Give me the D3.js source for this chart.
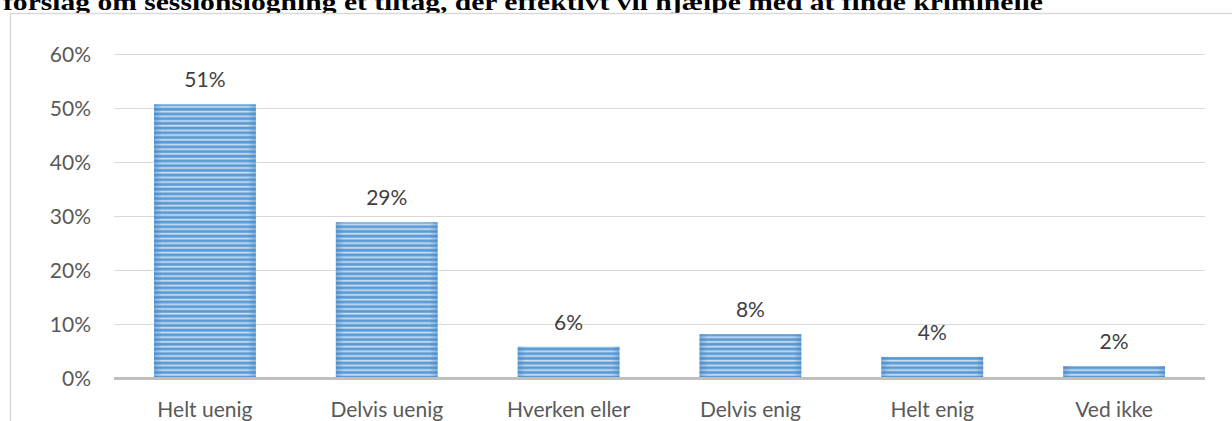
<!DOCTYPE html>
<html><head><meta charset="utf-8">
<script src="https://cdn.jsdelivr.net/npm/d3@7"></script>
<style>html,body{margin:0;padding:0;background:#fff;overflow:hidden}</style>
</head><body>
<svg id="c" width="1232" height="421"></svg>
<script>
const categories = ["Helt uenig","Delvis uenig","Hverken eller","Delvis enig","Helt enig","Ved ikke"];
const values = [50.6, 28.8, 5.8, 8.1, 3.9, 2.2];
const valueLabels = ["51%","29%","6%","8%","4%","2%"];
const yTicks = [0,10,20,30,40,50,60];
const title = "forslag om sessionslogning et tiltag, der effektivt vil hjælpe med at finde kriminelle";

const svg = d3.select("#c");
const W = 1232, H = 421;
const m = {left:114, right:1205, top:53.5, bottom:378};

const defs = svg.append("defs");
const pat = defs.append("pattern").attr("id","stripes").attr("patternUnits","userSpaceOnUse")
  .attr("width",10).attr("height",4.7);
pat.append("rect").attr("width",10).attr("height",4.7).attr("fill","#5b9bd5");
pat.append("rect").attr("y",2.6).attr("width",10).attr("height",1.8).attr("fill","#c9ddf2");
const grad = defs.append("linearGradient").attr("id","edge").attr("x1","0").attr("x2","1").attr("y1","0").attr("y2","0");
grad.append("stop").attr("offset","0").attr("stop-color","#3f7fc0").attr("stop-opacity",0.45);
grad.append("stop").attr("offset","0.08").attr("stop-color","#3f7fc0").attr("stop-opacity",0);
grad.append("stop").attr("offset","0.92").attr("stop-color","#3f7fc0").attr("stop-opacity",0);
grad.append("stop").attr("offset","1").attr("stop-color","#3f7fc0").attr("stop-opacity",0.45);

// title (partly cut off at the top, as in the reference)
svg.append("text").attr("x",3).attr("y",9.5).text(title)
  .attr("font-family","'Liberation Serif', 'DejaVu Serif', serif").attr("font-weight","bold")
  .attr("font-size",24).attr("fill","#000")
  .attr("textLength",1040).attr("lengthAdjust","spacingAndGlyphs");

// chart border (drawn over the title's descenders)
svg.append("rect").attr("x",10.5).attr("y",13.5).attr("width",W+20).attr("height",H+20)
  .attr("fill","#fff").attr("stroke","#d9d9d9").attr("stroke-width",1.5);

const x = d3.scaleBand().domain(categories).range([m.left,m.right]).paddingInner(0.44).paddingOuter(0.22);
const y = d3.scaleLinear().domain([0,60]).range([m.bottom,m.top]);

const font = "Lato, 'Open Sans', sans-serif";

// gridlines
svg.append("g").selectAll("line").data(yTicks.filter(d=>d>0)).join("line")
  .attr("x1",m.left).attr("x2",m.right)
  .attr("y1",d=>Math.round(y(d))+0.5).attr("y2",d=>Math.round(y(d))+0.5)
  .attr("stroke","#d9d9d9").attr("stroke-width",1.2);

// y labels
const yAxis = d3.axisLeft(y).tickValues(yTicks).tickFormat(d=>d+"%").tickSize(0).tickPadding(0);
const ya = svg.append("g").attr("transform",`translate(${m.left-23},0)`).call(yAxis);
ya.select(".domain").remove();
ya.selectAll("text").attr("font-family",font).attr("font-size",21).attr("fill","#595959").attr("dy","0.38em");

// bars
const bars = svg.append("g");
bars.selectAll("rect.b").data(values).join("rect").attr("class","b")
  .attr("x",(d,i)=>x(categories[i])).attr("width",x.bandwidth())
  .attr("y",d=>y(d)).attr("height",d=>y(0)-y(d)).attr("fill","url(#stripes)");
bars.selectAll("rect.e").data(values).join("rect").attr("class","e")
  .attr("x",(d,i)=>x(categories[i])).attr("width",x.bandwidth())
  .attr("y",d=>y(d)).attr("height",d=>y(0)-y(d)).attr("fill","url(#edge)");

// value labels
svg.append("g").selectAll("text").data(values).join("text")
  .attr("x",(d,i)=>x(categories[i])+x.bandwidth()/2).attr("y",d=>y(d)-17)
  .attr("text-anchor","middle").attr("font-family",font).attr("font-size",21).attr("fill","#404040")
  .text((d,i)=>valueLabels[i]);

// x axis
svg.append("line").attr("x1",m.left).attr("x2",m.right).attr("y1",y(0)+0.5).attr("y2",y(0)+0.5)
  .attr("stroke","#bfbfbf").attr("stroke-width",3);
const xAxis = d3.axisBottom(x).tickSize(0).tickPadding(0);
const xa = svg.append("g").attr("transform",`translate(0,${y(0)})`).call(xAxis);
xa.select(".domain").remove();
xa.selectAll("text").attr("font-family",font).attr("font-size",21).attr("fill","#595959")
  .attr("y",39).attr("dy",0);
</script>
</body></html>
